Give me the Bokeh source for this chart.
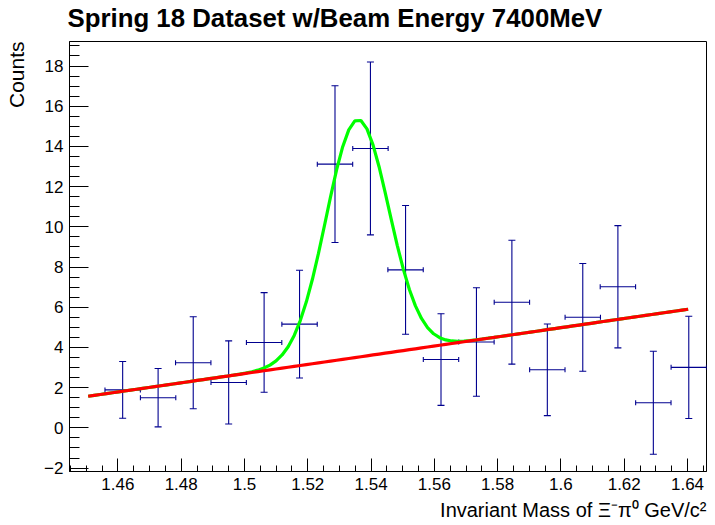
import numpy as np
from bokeh.plotting import figure
from bokeh.models import Title, FixedTicker, Range1d, ColumnDataSource
from bokeh.embed import file_html
from bokeh.resources import INLINE

# ---- data ----
bin_centers = [1.4615, 1.4727, 1.4838, 1.4950, 1.5062, 1.5174, 1.5286, 1.5398, 1.5509,
               1.5621, 1.5733, 1.5845, 1.5957, 1.6069, 1.6180, 1.6292, 1.6404]
counts = [1.89, 1.50, 3.24, 2.26, 4.25, 5.16, 13.12, 13.90, 7.86,
          3.40, 4.27, 6.25, 2.89, 5.50, 7.02, 1.25, 3.01]
count_errors = [1.41, 1.45, 2.29, 2.07, 2.48, 2.68, 3.90, 4.30, 3.20,
                2.28, 2.70, 3.08, 2.28, 2.68, 3.04, 2.56, 2.54]
bin_half_width = 0.00559

# fit: linear background p0 + p1*x, gaussian amp, mean, sigma
bg_params = [-31.56, 22.84]
gauss_params = [11.82, 1.5357, 0.0099]
fit_range = [1.4506, 1.6402]

x_ticks = [1.46, 1.48, 1.50, 1.52, 1.54, 1.56, 1.58, 1.60, 1.62, 1.64]
x_tick_labels = ["1.46", "1.48", "1.5", "1.52", "1.54", "1.56", "1.58", "1.6", "1.62", "1.64"]
y_ticks = [-2, 0, 2, 4, 6, 8, 10, 12, 14, 16, 18]
y_tick_labels = ["\u22122", "0", "2", "4", "6", "8", "10", "12", "14", "16", "18"]

title_text = "Spring 18 Dataset w/Beam Energy 7400MeV"
x_title = "Invariant Mass of \u039e\u207b\u03c0\u2070 GeV/c\u00b2"
y_title = "Counts"

# ---- figure ----
FONT = "Liberation Sans"
BLUE = "#00008f"

p = figure(width=715, height=525, output_backend="svg", toolbar_location=None,
           x_range=Range1d(1.4447, 1.6460), y_range=Range1d(-2.17, 19.22),
           min_border_left=69, min_border_right=9, min_border_top=41, min_border_bottom=54)
p.background_fill_color = "white"
p.border_fill_color = "white"
p.outline_line_color = "black"
p.outline_line_width = 1
p.xgrid.visible = False
p.ygrid.visible = False
p.title.text = ""


def spacer(gap):
    return Title(text=" ", text_font_size="1px", standoff=gap, text_color="white")


# above: spacer next to the frame, then the main title
p.add_layout(spacer(7), "above")
p.add_layout(Title(text=title_text, align="left", offset=-2, text_font=FONT,
                   text_font_style="bold", text_font_size="25.8px", text_color="black",
                   standoff=0), "above")

# left: axis, spacer, then the rotated y title
p.add_layout(spacer(11), "left")
p.add_layout(Title(text=y_title, align="right", text_font=FONT, text_font_size="21px",
                   text_font_style="normal", text_color="black", standoff=0), "left")

# below: axis then x title
p.add_layout(Title(text=x_title, align="right", text_font=FONT, text_font_size="20px",
                   text_font_style="normal", text_color="black", standoff=9), "below")

src = ColumnDataSource(dict(
    x=bin_centers, y=counts,
    y0=[c - e for c, e in zip(counts, count_errors)],
    y1=[c + e for c, e in zip(counts, count_errors)],
    x0=[x - bin_half_width for x in bin_centers],
    x1=[x + bin_half_width for x in bin_centers],
))

# error bars
p.segment(x0="x", y0="y0", x1="x", y1="y1", source=src, line_color=BLUE, line_width=1.1)
p.segment(x0="x0", y0="y", x1="x1", y1="y", source=src, line_color=BLUE, line_width=1.1)
p.scatter(x="x", y="y0", source=src, marker="dash", size=7, line_color=BLUE, line_width=1.1)
p.scatter(x="x", y="y1", source=src, marker="dash", size=7, line_color=BLUE, line_width=1.1)
p.scatter(x="x0", y="y", source=src, marker="dash", size=5, angle=np.pi / 2,
          line_color=BLUE, line_width=1.1)
p.scatter(x="x1", y="y", source=src, marker="dash", size=5, angle=np.pi / 2,
          line_color=BLUE, line_width=1.1)

# fit curves
xf = np.linspace(fit_range[0], fit_range[1], 100)
bg = bg_params[0] + bg_params[1] * xf
total = bg + gauss_params[0] * np.exp(-0.5 * ((xf - gauss_params[1]) / gauss_params[2]) ** 2)
p.line(xf, total, line_color="#00ff00", line_width=3.2)
p.line(xf, bg, line_color="#ff0000", line_width=3.2)

# axes
minor_x = [round(v, 3) for v in np.arange(1.445, 1.6451, 0.005) if all(abs(v - t) > 1e-6 for t in x_ticks)]
p.xaxis.ticker = FixedTicker(ticks=x_ticks, minor_ticks=minor_x)
p.xaxis.major_label_overrides = {t: l for t, l in zip(x_ticks, x_tick_labels)}
minor_y = [v for v in np.arange(-2.0, 19.01, 0.5) if all(abs(v - t) > 1e-6 for t in y_ticks)]
p.yaxis.ticker = FixedTicker(ticks=y_ticks, minor_ticks=minor_y)
p.yaxis.major_label_overrides = {t: l for t, l in zip(y_ticks, y_tick_labels)}

for ax in (p.xaxis[0], p.yaxis[0]):
    ax.axis_line_color = "black"
    ax.major_tick_line_color = "black"
    ax.minor_tick_line_color = "black"
    ax.major_tick_out = 0
    ax.minor_tick_out = 0
    ax.major_label_text_font = FONT
    ax.major_label_text_font_size = "17px"
    ax.major_label_text_color = "black"
p.xaxis.major_tick_in = 13
p.xaxis.minor_tick_in = 6
p.xaxis.major_label_standoff = 6
p.yaxis.major_tick_in = 19
p.yaxis.minor_tick_in = 10
p.yaxis.major_label_standoff = 6

open("out.html", "w").write(file_html(p, INLINE))
